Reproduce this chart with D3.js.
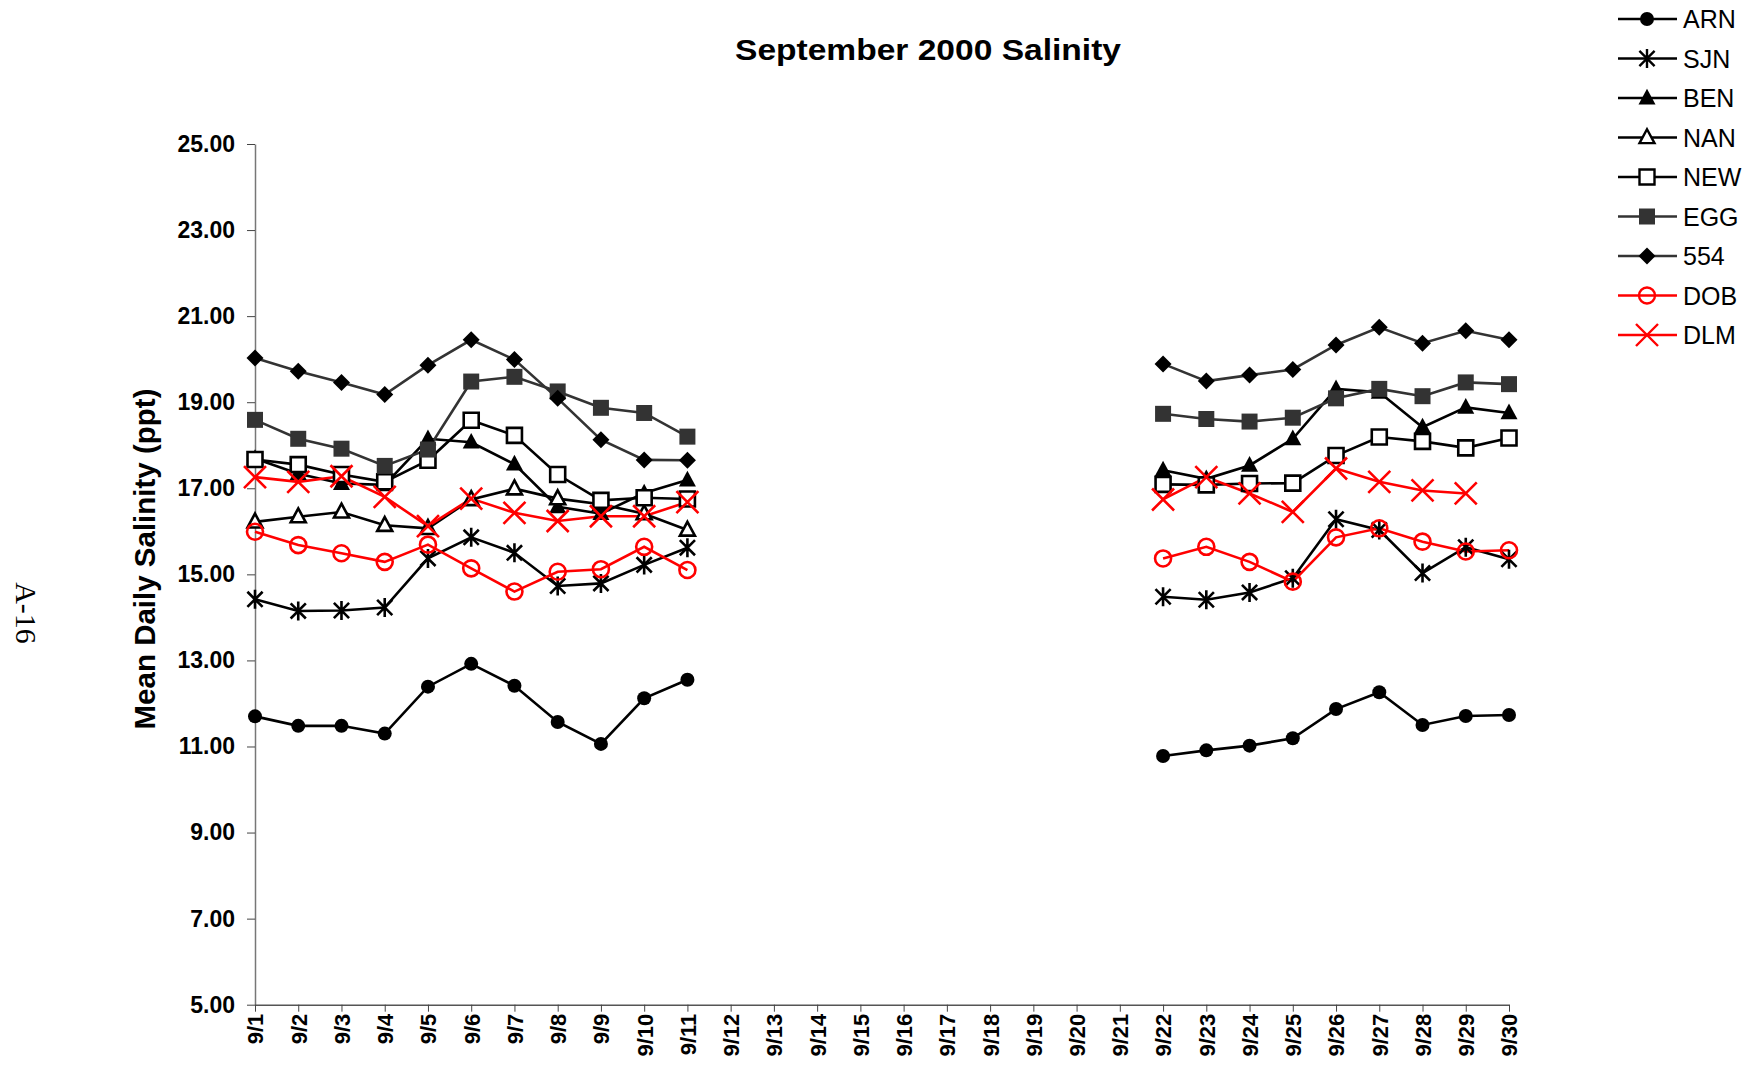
<!DOCTYPE html>
<html>
<head>
<meta charset="utf-8">
<script src="https://cdn.jsdelivr.net/npm/d3@7"></script>
<style>
  html, body { margin: 0; padding: 0; background: #fff; }
  svg text { font-family: Arial, "Liberation Sans", sans-serif; }
</style>
</head>
<body>
<div id="chart"></div>
<script>
'use strict';

// days of the month (x categories)
var days = d3.range(1, 31).map(function(d) { return '9/' + d; });

var yTicks = [5, 7, 9, 11, 13, 15, 17, 19, 21, 23, 25];

var seriesNames = ['ARN', 'SJN', 'BEN', 'NAN', 'NEW', 'EGG', '554', 'DOB', 'DLM'];

// no data 9/12 - 9/21
var gap = [null, null, null, null, null, null, null, null, null, null];

var ARN = [11.70, 11.48, 11.48, 11.30, 12.39, 12.92, 12.41, 11.57, 11.06, 12.12, 12.55]
  .concat(gap, [10.78, 10.91, 11.02, 11.19, 11.87, 12.26, 11.50, 11.71, 11.73]);
var SJN = [14.42, 14.15, 14.16, 14.23, 15.37, 15.86, 15.50, 14.73, 14.79, 15.22, 15.62]
  .concat(gap, [14.48, 14.41, 14.58, 14.91, 16.28, 16.03, 15.03, 15.63, 15.35]);
var BEN = [17.69, 17.34, 17.11, 17.08, 18.15, 18.07, 17.56, 16.57, 16.41, 16.89, 17.19]
  .concat(gap, [17.42, 17.22, 17.53, 18.15, 19.31, 19.23, 18.42, 18.88, 18.75]);
var NAN = [16.22, 16.34, 16.45, 16.14, 16.07, 16.74, 16.99, 16.76, 16.63, 16.41, 16.03]
  .concat(gap, [null, null, null, null, null, null, null, null, null]);
var NEW = [17.67, 17.55, 17.32, 17.15, 17.65, 18.58, 18.23, 17.32, 16.72, 16.78, 16.75]
  .concat(gap, [17.09, 17.08, 17.11, 17.12, 17.76, 18.19, 18.09, 17.94, 18.17]);
var EGG = [18.59, 18.15, 17.92, 17.52, 17.90, 19.48, 19.59, 19.25, 18.87, 18.75, 18.20]
  .concat(gap, [18.73, 18.61, 18.55, 18.64, 19.09, 19.31, 19.14, 19.46, 19.42]);
var S554 = [20.03, 19.72, 19.46, 19.18, 19.86, 20.45, 19.99, 19.09, 18.13, 17.66, 17.65]
  .concat(gap, [19.89, 19.49, 19.63, 19.76, 20.33, 20.74, 20.37, 20.66, 20.45]);
var DOB = [15.99, 15.68, 15.49, 15.29, 15.69, 15.14, 14.60, 15.06, 15.12, 15.64, 15.10]
  .concat(gap, [15.37, 15.64, 15.29, 14.83, 15.86, 16.07, 15.76, 15.53, 15.56]);
var DLM = [17.26, 17.15, 17.28, 16.80, 16.12, 16.76, 16.43, 16.24, 16.35, 16.35, 16.68]
  .concat(gap, [16.74, 17.26, 16.88, 16.45, 17.46, 17.15, 16.95, 16.88, null]);

var seriesValues = [ARN, SJN, BEN, NAN, NEW, EGG, S554, DOB, DLM];

// marker paths, centred on 0,0
var markers = {
  circle: function(r) { return d3.symbol(d3.symbolCircle, Math.PI * r * r)(); },
  square: function(r) { return 'M' + -r + ',' + -r + 'H' + r + 'V' + r + 'H' + -r + 'Z'; },
  diamond: function(r) { return 'M0,' + -r + 'L' + r + ',0L0,' + r + 'L' + -r + ',0Z'; },
  triangle: function(r) {
    return 'M0,' + (-r * 1.1) + 'L' + r + ',' + (r * 0.75) + 'L' + -r + ',' + (r * 0.75) + 'Z';
  },
  cross: function(r) {
    return 'M' + -r + ',' + -r + 'L' + r + ',' + r + 'M' + r + ',' + -r + 'L' + -r + ',' + r;
  },
  star: function(r) {
    var d = r * 0.8;
    return 'M0,' + -r + 'V' + r + 'M' + -d + ',' + -d + 'L' + d + ',' + d +
      'M' + d + ',' + -d + 'L' + -d + ',' + d;
  }
};

var styles = [
  { line: '#000', mark: 'circle', r: 7, fill: '#000', stroke: 'none' },
  { line: '#000', mark: 'star', r: 9.5, fill: 'none', stroke: '#000' },
  { line: '#000', mark: 'triangle', r: 8.5, fill: '#000', stroke: 'none' },
  { line: '#000', mark: 'triangle', r: 7.5, fill: '#fff', stroke: '#000' },
  { line: '#000', mark: 'square', r: 7.5, fill: '#fff', stroke: '#000' },
  { line: '#333', mark: 'square', r: 8, fill: '#333', stroke: 'none' },
  { line: '#333', mark: 'diamond', r: 8.5, fill: '#000', stroke: 'none' },
  { line: '#f00', mark: 'circle', r: 8, fill: 'none', stroke: '#f00' },
  { line: '#f00', mark: 'cross', r: 11, fill: 'none', stroke: '#f00' }
];

draw();

function draw() {

  var width = 1756, height = 1069;

  var svg = d3.select('#chart').append('svg')
      .attr('width', width)
      .attr('height', height);

  var x = d3.scalePoint()
      .domain(days)
      .range([255, 1509])
      .padding(0);

  var y = d3.scaleLinear()
      .domain([5, 25])
      .range([1004.7, 144]);

  // title
  svg.append('text')
      .attr('x', 928)
      .attr('y', 60)
      .attr('text-anchor', 'middle')
      .attr('textLength', 386)
      .attr('lengthAdjust', 'spacingAndGlyphs')
      .style('font-size', '30px')
      .style('font-weight', 'bold')
      .text('September 2000 Salinity');

  // page number
  svg.append('text')
      .attr('transform', 'translate(16,613) rotate(90)')
      .attr('text-anchor', 'middle')
      .style('font-family', '"Liberation Serif", "Times New Roman", serif')
      .style('font-size', '30px')
      .text('A-16');

  // y axis
  var yAxis = svg.append('g')
      .attr('transform', 'translate(255,0)')
      .call(d3.axisLeft(y).tickValues(yTicks).tickSize(8).tickSizeOuter(0)
        .tickFormat(d3.format('.2f')));

  yAxis.select('.domain').attr('stroke', '#777').attr('stroke-width', 1.5);
  yAxis.selectAll('.tick line').attr('stroke', '#444');
  yAxis.selectAll('.tick text')
      .attr('x', -20)
      .style('font-family', 'Arial, "Liberation Sans", sans-serif')
      .style('font-size', '23px')
      .style('font-weight', 'bold')
      .attr('fill', '#000');

  svg.append('text')
      .attr('transform', 'translate(155,559) rotate(-90)')
      .attr('text-anchor', 'middle')
      .style('font-size', '29.5px')
      .style('font-weight', 'bold')
      .text('Mean Daily Salinity (ppt)');

  // x axis
  var xAxis = svg.append('g')
      .attr('transform', 'translate(0,' + y(5) + ')')
      .call(d3.axisBottom(x).tickSize(7).tickSizeOuter(0));

  xAxis.select('.domain').attr('stroke', '#555').attr('stroke-width', 1.5);
  xAxis.selectAll('.tick line').attr('stroke', '#444');
  xAxis.selectAll('.tick text')
      .attr('transform', 'rotate(-90)')
      .attr('text-anchor', 'end')
      .attr('x', -9)
      .attr('y', 0)
      .attr('dy', '0.36em')
      .style('font-family', 'Arial, "Liberation Sans", sans-serif')
      .style('font-size', '22px')
      .style('font-weight', 'bold')
      .attr('fill', '#000');

  // series
  var line = d3.line()
      .defined(function(d) { return d != null; })
      .x(function(d, i) { return x(days[i]); })
      .y(function(d) { return y(d); });

  var plot = svg.append('g');

  seriesValues.forEach(function(vals, k) {
    var st = styles[k];

    plot.append('path')
        .datum(vals)
        .attr('fill', 'none')
        .attr('stroke', st.line)
        .attr('stroke-width', 2.6)
        .attr('d', line);
  });

  seriesValues.forEach(function(vals, k) {
    var st = styles[k];
    var pts = vals.map(function(v, i) { return { v: v, day: days[i] }; })
        .filter(function(p) { return p.v != null; });

    plot.append('g').selectAll('path')
        .data(pts)
        .enter().append('path')
        .attr('transform', function(p) {
          return 'translate(' + x(p.day) + ',' + y(p.v) + ')';
        })
        .attr('d', markers[st.mark](st.r))
        .attr('fill', st.fill)
        .attr('stroke', st.stroke)
        .attr('stroke-width', 2.6);
  });

  // legend
  var legend = svg.append('g').selectAll('g')
      .data(seriesNames)
      .enter().append('g')
      .attr('transform', function(d, i) {
        return 'translate(0,' + (19 + i * 39.5) + ')';
      });

  legend.append('line')
      .attr('x1', 1618)
      .attr('x2', 1677)
      .attr('stroke', function(d, i) { return styles[i].line; })
      .attr('stroke-width', 2.6);

  legend.append('path')
      .attr('transform', 'translate(1647,0)')
      .attr('d', function(d, i) { return markers[styles[i].mark](styles[i].r); })
      .attr('fill', function(d, i) { return styles[i].fill; })
      .attr('stroke', function(d, i) { return styles[i].stroke; })
      .attr('stroke-width', 2.4);

  legend.append('text')
      .attr('x', 1683)
      .attr('dy', '0.36em')
      .style('font-size', '25px')
      .text(function(d) { return d; });
}
</script>
</body>
</html>
